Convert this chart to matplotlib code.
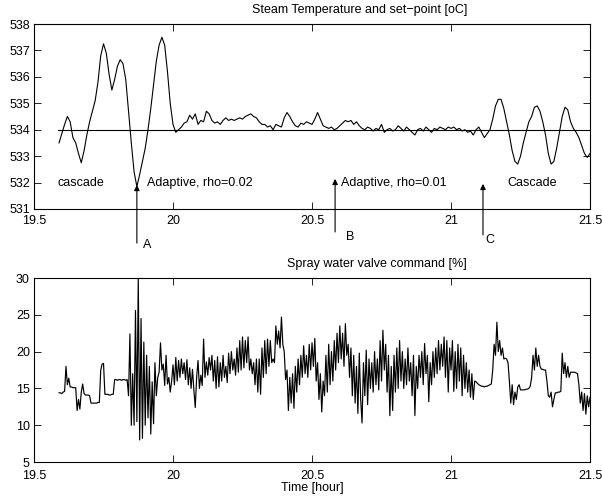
import numpy as np
import matplotlib.pyplot as plt

plt.rcParams['font.family'] = ['Liberation Sans', 'DejaVu Sans']
plt.rcParams['font.size'] = 9

# steam temperature, sampled every 0.01 h from 19.59
t0_temp = 19.59
dt_temp = 0.01
temp = [533.5, 533.85, 534.2, 534.5, 534.3, 533.7, 533.5, 533.1, 532.75, 533.2,
        533.8, 534.3, 534.7, 535.1, 535.8, 536.8, 537.25, 536.9, 536.1, 535.5,
        535.9, 536.4, 536.65, 536.5, 535.9, 534.7, 533.5, 532.4, 531.85, 532.3,
        532.8, 533.3, 534.0, 534.8, 535.7, 536.6, 537.2, 537.5, 537.2, 536.2,
        535.0, 534.2, 533.9, 534.0, 534.1, 534.25, 534.3, 534.55, 534.4, 534.6,
        534.2, 534.35, 534.3, 534.7, 534.6, 534.35, 534.25, 534.3, 534.2, 534.35,
        534.45, 534.35, 534.4, 534.35, 534.4, 534.45, 534.4, 534.5, 534.55, 534.6,
        534.5, 534.45, 534.3, 534.2, 534.2, 534.1, 534.15, 534.0, 534.2, 534.15,
        534.1, 534.45, 534.65, 534.5, 534.3, 534.15, 534.1, 534.25, 534.2, 534.3,
        534.25, 534.2, 534.4, 534.65, 534.4, 534.15, 534.1, 534.05, 534.1, 534.0,
        534.05, 534.15, 534.25, 534.35, 534.3, 534.35, 534.2, 534.3, 534.15, 534.05,
        534.0, 534.1, 534.05, 533.95, 534.05, 534.0, 534.2, 533.9, 534.0, 534.05,
        533.95, 534.0, 534.15, 534.05, 533.95, 534.1, 534.0, 533.9, 533.8, 534.0,
        534.05, 533.95, 534.1, 534.0, 533.9, 534.05, 534.0, 534.1, 534.05, 534.0,
        534.1, 534.05, 534.1, 534.0, 534.05, 533.95, 534.0, 533.9, 533.95, 533.8,
        534.0, 534.1, 533.9, 533.7, 533.85, 534.0, 534.4, 534.9, 535.15, 535.15,
        534.8, 534.3, 533.8, 533.2, 532.8, 532.7, 533.0, 533.5, 533.9, 534.3,
        534.5, 534.85, 534.9, 534.7, 534.3, 533.8, 533.1, 532.7, 532.8, 533.3,
        533.9, 534.5, 534.85, 534.75, 534.3, 534.05, 533.9, 533.7, 533.4, 533.1,
        532.95, 533.1]

t_setpoint = [19.587, 21.5]
setpoint = [534, 534]

# valve command, sampled every 0.005 h from 19.59
t0_valve = 19.59
dt_valve = 0.005
valve = [14.4, 14.4, 14.3, 14.5, 14.6, 18.0, 15.5, 16.4, 15.2, 15.2,
         15.1, 15.1, 15.1, 12.0, 13.5, 12.2, 14.5, 15.6, 14.3, 14.1,
         14.1, 14.1, 14.0, 13.0, 13.0, 13.0, 13.0, 13.0, 13.1, 13.1,
         17.5, 18.3, 18.4, 14.2, 14.2, 14.2, 14.1, 14.1, 14.2, 14.2,
         16.2, 16.2, 16.1, 16.2, 16.2, 16.1, 16.2, 16.2, 16.1, 16.2,
         14.0, 22.4, 10.0, 17.0, 10.0, 25.6, 10.5, 30.0, 8.0, 24.5,
         8.2, 21.3, 10.0, 19.5, 11.0, 18.0, 8.8, 15.9, 10.2, 18.5,
         14.0, 16.5, 17.2, 21.2, 17.5, 18.3, 15.4, 19.5, 15.6, 16.5,
         14.5, 16.0, 18.2, 15.5, 19.2, 16.0, 18.8, 16.5, 19.0, 17.0,
         18.5, 16.2, 18.9, 15.5, 17.8, 15.0, 17.6, 14.8, 12.4, 16.5,
         18.8, 15.0, 16.8, 15.4, 21.7, 16.5, 18.6, 16.8, 19.2, 17.5,
         19.5, 16.0, 18.8, 15.0, 19.3, 15.2, 18.5, 16.0, 19.5, 16.5,
         18.0, 15.8, 19.8, 17.0, 20.0, 17.5, 19.0, 16.8, 20.5, 17.2,
         21.5, 17.5, 22.0, 17.8, 21.5, 18.5, 22.0, 17.5, 19.0, 17.0,
         18.5, 15.5, 19.0, 14.5, 19.0, 14.2, 20.5, 16.5, 21.5, 17.0,
         21.7, 18.0, 21.5, 18.5, 19.0, 18.5, 23.5, 21.0, 22.8, 20.5,
         24.7, 21.0, 20.0, 16.2, 17.5, 12.0, 16.5, 13.0, 17.0, 12.3,
         18.0, 14.5, 19.0, 15.5, 19.5, 16.5, 20.8, 17.0, 19.5, 16.5,
         21.0, 17.5, 21.2, 18.0, 21.8, 16.0, 18.5, 13.5, 17.0, 11.8,
         16.0, 14.0, 19.5, 14.5, 21.0, 15.5, 20.0, 16.0, 21.5, 17.5,
         22.5, 18.5, 23.5, 19.0, 22.5, 18.0, 23.8, 19.5, 21.0, 16.5,
         20.5, 14.0, 19.5, 13.0, 18.0, 11.6, 19.8, 13.5, 10.3, 18.5,
         14.0, 20.2, 12.8, 19.0, 15.0, 18.5, 14.5, 20.0, 15.5, 19.0,
         14.8, 21.5, 16.0, 22.9, 17.5, 21.0, 14.5, 19.5, 11.3, 18.0,
         12.0, 19.5, 14.5, 20.5, 15.0, 21.5, 16.0, 20.0, 15.0, 19.0,
         15.5, 20.5, 16.0, 18.5, 14.0, 19.5, 11.3, 18.0, 15.0, 19.5,
         16.5, 20.0, 15.5, 21.1, 17.0, 19.5, 13.2, 18.5, 15.5, 20.0,
         16.5, 20.5, 17.0, 21.5, 17.5, 21.0, 18.0, 22.0, 16.5, 21.5,
         14.5, 20.5, 17.5, 21.5, 14.6, 20.0, 15.0, 21.0, 16.0, 20.5,
         14.0, 19.5, 15.0, 18.5, 14.5, 17.5, 13.8, 17.0, 13.5, 16.0,
         15.9, 15.7, 15.5, 15.4, 15.3, 15.3, 15.2, 15.3, 15.3, 15.4,
         15.5, 15.6, 17.5, 21.0, 19.5, 24.0, 20.0, 21.5, 19.5, 20.5,
         19.0, 19.1, 19.0, 18.5, 16.0, 13.0, 15.5, 12.8, 14.5, 13.5,
         15.2, 15.5, 14.8, 14.8, 14.8, 14.8, 14.9, 14.9, 15.0, 15.3,
         16.5, 19.5, 17.5, 20.5, 18.0, 19.5, 18.0, 17.6, 17.6, 17.5,
         17.5, 16.0, 14.0, 13.8, 14.5, 12.5, 13.5, 14.4, 14.4, 14.5,
         14.5, 14.6, 19.8, 17.0, 18.5, 16.5, 18.0, 16.5, 17.2, 17.2,
         17.2, 17.2, 17.1, 17.0, 15.5, 13.0, 14.5, 12.0, 14.3, 11.5,
         14.0, 12.5, 13.8]

t_temp = t0_temp + dt_temp * np.arange(len(temp))
t_valve = t0_valve + dt_valve * np.arange(len(valve))

xticks = [19.5, 20, 20.5, 21, 21.5]
xtick_labels = ['19.5', '20', '20.5', '21', '21.5']

# switching instants (arrows)
t_switch = [19.87, 20.583, 21.115]
switch_names = ['A', 'B', 'C']
arrow_tip = [531.91, 532.14, 531.95]
arrow_base = [529.71, 530.13, 530.02]
name_pos = [(19.906, 529.64), (20.637, 529.94), (21.14, 529.83)]

fig = plt.figure(figsize=(6.02, 4.97), dpi=100)
ax1 = fig.add_axes([0.0565, 0.5795, 0.9236, 0.3722])
ax2 = fig.add_axes([0.0565, 0.0704, 0.9236, 0.3702])

ax1.plot(t_temp, temp, color='k', lw=0.8)
ax1.plot(t_setpoint, setpoint, color='k', lw=0.8)
ax1.set_xlim(19.5, 21.5)
ax1.set_ylim(531, 538)
ax1.set_yticks(range(531, 539))

ax1.text(19.586, 532, 'cascade', va='center', ha='left')
ax1.text(19.906, 532, 'Adaptive, rho=0.02', va='center', ha='left')
ax1.text(20.604, 532, 'Adaptive, rho=0.01', va='center', ha='left')
ax1.text(21.201, 532, 'Cascade', va='center', ha='left')

for i in range(len(t_switch)):
    ax1.annotate('', xy=(t_switch[i], arrow_tip[i]), xytext=(t_switch[i], arrow_base[i]),
                 arrowprops=dict(arrowstyle='-|>', color='k', lw=0.8, mutation_scale=8,
                                 shrinkA=0, shrinkB=0),
                 annotation_clip=False)
    ax1.text(name_pos[i][0], name_pos[i][1], switch_names[i], va='center', ha='center',
             clip_on=False)

ax2.plot(t_valve, valve, color='k', lw=0.85)
ax2.set_xlim(19.5, 21.5)
ax2.set_ylim(5, 30)
ax2.set_yticks([5, 10, 15, 20, 25, 30])

for ax in [ax1, ax2]:
    ax.set_xticks(xticks)
    ax.set_xticklabels(xtick_labels)
    ax.tick_params(direction='in', top=True, right=True, length=5, width=0.6)
    ax.tick_params(axis='x', pad=4)
    ax.tick_params(axis='y', pad=3)
    for s in ax.spines.values():
        s.set_linewidth(0.8)

ax2.tick_params(axis='x', pad=5.5)
ax2.set_xlabel('Time [hour]', labelpad=0)

fig.text(360 / 602, 1 - 10 / 497, 'Steam Temperature and set\u2212point [oC]', ha='center', va='center')
fig.text(377 / 602, 1 - 264 / 497, 'Spray water valve command [%]', ha='center', va='center')

fig.savefig('out.png', dpi=100)
